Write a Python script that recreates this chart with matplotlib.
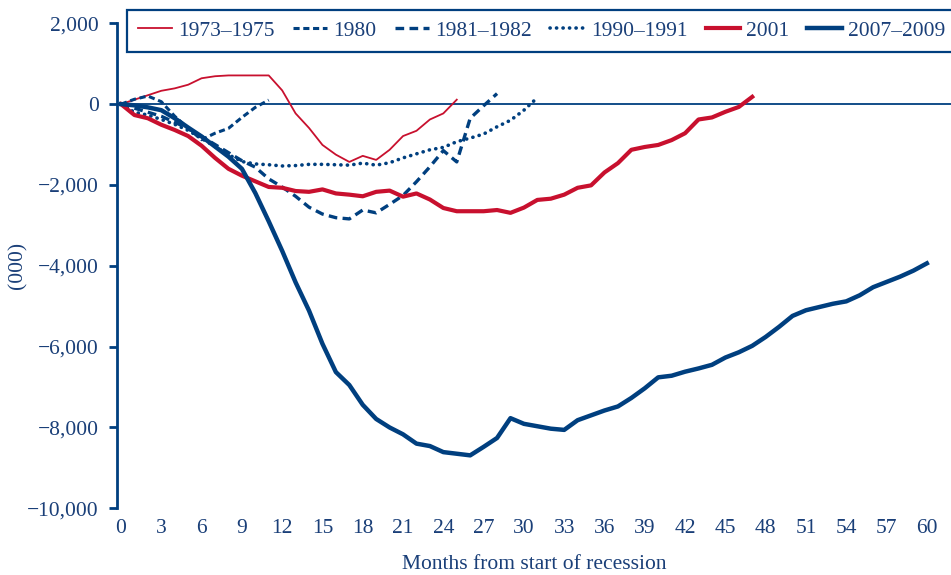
#!/usr/bin/env python

#Importing python libraries
import numpy as np
import matplotlib
matplotlib.use('Agg')
import matplotlib.pyplot as plt

#Defining plot params
fnt = 15.5
blue = '#003f7f'
red = '#c8102e'
txt = '#1a3f78'
plt.rcParams['font.family'] = ['Liberation Serif', 'DejaVu Serif']

#Payroll employment change from start of recession (000)
jobs_1973 = [0, 110, 220, 330, 390, 480, 640, 690, 710, 710, 710, 710, 340, -230, -590,
             -1010, -1250, -1430, -1280, -1380, -1130, -790, -660, -380, -230, 110]
jobs_1980 = [0, 120, 200, 60, -300, -600, -880, -720, -600, -330, -80, 100]
jobs_1981 = [0, -100, -200, -300, -450, -600, -800, -1000, -1200, -1400, -1560, -1850,
             -2050, -2280, -2550, -2720, -2810, -2840, -2620, -2690, -2480, -2260, -1920,
             -1550, -1150, -1430, -350, -40, 260]
jobs_1990 = [0, -200, -270, -380, -500, -650, -850, -1050, -1250, -1420, -1480, -1500,
             -1530, -1520, -1490, -1490, -1500, -1510, -1460, -1510, -1450, -1330, -1230,
             -1130, -1070, -930, -840, -740, -560, -400, -150, 160]
jobs_2001 = [0, -270, -350, -510, -640, -790, -1030, -1330, -1600, -1770, -1910, -2050,
             -2070, -2150, -2170, -2110, -2210, -2240, -2280, -2170, -2140, -2290, -2210,
             -2360, -2570, -2650, -2650, -2650, -2620, -2690, -2560, -2370, -2340, -2240,
             -2070, -2010, -1690, -1460, -1130, -1060, -1010, -890, -720, -380, -330,
             -190, -70, 180]
jobs_2007 = [0, -30, -80, -150, -350, -580, -800, -1050, -1300, -1600, -2200, -2900,
             -3630, -4410, -5110, -5930, -6630, -6950, -7440, -7790, -8000, -8170, -8400,
             -8460, -8610, -8650, -8690, -8480, -8260, -7770, -7910, -7970, -8030, -8060,
             -7820, -7700, -7580, -7480, -7270, -7030, -6760, -6720, -6620, -6540, -6450,
             -6270, -6140, -5980, -5760, -5510, -5240, -5100, -5020, -4940, -4880, -4730,
             -4530, -4400, -4270, -4120, -3940]

labels = ['1973\u20131975', '1980', '1981\u20131982', '1990\u20131991', '2001', '2007\u20132009']
x_ticks = np.arange(0, 61, 3)
y_ticks = np.arange(-10000, 2001, 2000)

#matplotlib plot
fig = plt.figure(figsize = (9.51,5.75), dpi = 100)
ax = fig.add_axes([0.123, 0.116, 0.877, 0.8435])

ax.axhline(0, color = blue, linewidth = 1.3, zorder = 1)

ax.plot(np.arange(len(jobs_1973)), jobs_1973, color = red, linewidth = 1.3, label = labels[0])
ax.plot(np.arange(len(jobs_1980)), jobs_1980, color = blue, linewidth = 2.2,
        linestyle = (0,(2.0,1.2)), label = labels[1])
ax.plot(np.arange(len(jobs_1981)), jobs_1981, color = blue, linewidth = 2.4,
        linestyle = (0,(2.6,1.6)), label = labels[2])
ax.plot(np.arange(len(jobs_1990)), jobs_1990, color = blue, linewidth = 2.6,
        linestyle = (0,(0.05,1.75)), dash_capstyle = 'round', label = labels[3])
ax.plot(np.arange(len(jobs_2001)), jobs_2001, color = red, linewidth = 3.0, label = labels[4])
ax.plot(np.arange(len(jobs_2007)), jobs_2007, color = blue, linewidth = 3.2, label = labels[5])

#Axes styling
ax.set_xlim(-0.3, 61.8)
ax.set_ylim(-10000, 2000)
ax.set_xticks(x_ticks)
ax.set_yticks(y_ticks)
ax.set_yticklabels(['\u2212{:,}'.format(-v) if v < 0 else '{:,}'.format(v) for v in y_ticks])
for s in ['top', 'right', 'bottom']:
    ax.spines[s].set_visible(False)
ax.spines['left'].set_color(blue)
ax.spines['left'].set_linewidth(2)
ax.tick_params(axis = 'y', colors = blue, labelcolor = txt, length = 6, width = 2,
               pad = 7, labelsize = fnt)
ax.tick_params(axis = 'x', length = 0, pad = 8, labelcolor = txt, labelsize = fnt)
ax.set_xlabel('Months from start of recession', fontsize = fnt, color = txt, labelpad = 12)
ax.set_ylabel('(000)', fontsize = fnt, color = txt, labelpad = 0)

#Legend across the top
leg = fig.legend(loc = 'upper left', bbox_to_anchor = (127/951, 1 - 10/575), ncol = 6,
                 fontsize = fnt, handlelength = 1.6, handletextpad = 0.28,
                 columnspacing = 0.85, borderpad = 0.5, borderaxespad = 0,
                 fancybox = False, framealpha = 1, edgecolor = blue)
leg.get_frame().set_linewidth(1.6)
for t in leg.get_texts():
    t.set_color(txt)

plt.savefig('out.png', dpi = 100)
